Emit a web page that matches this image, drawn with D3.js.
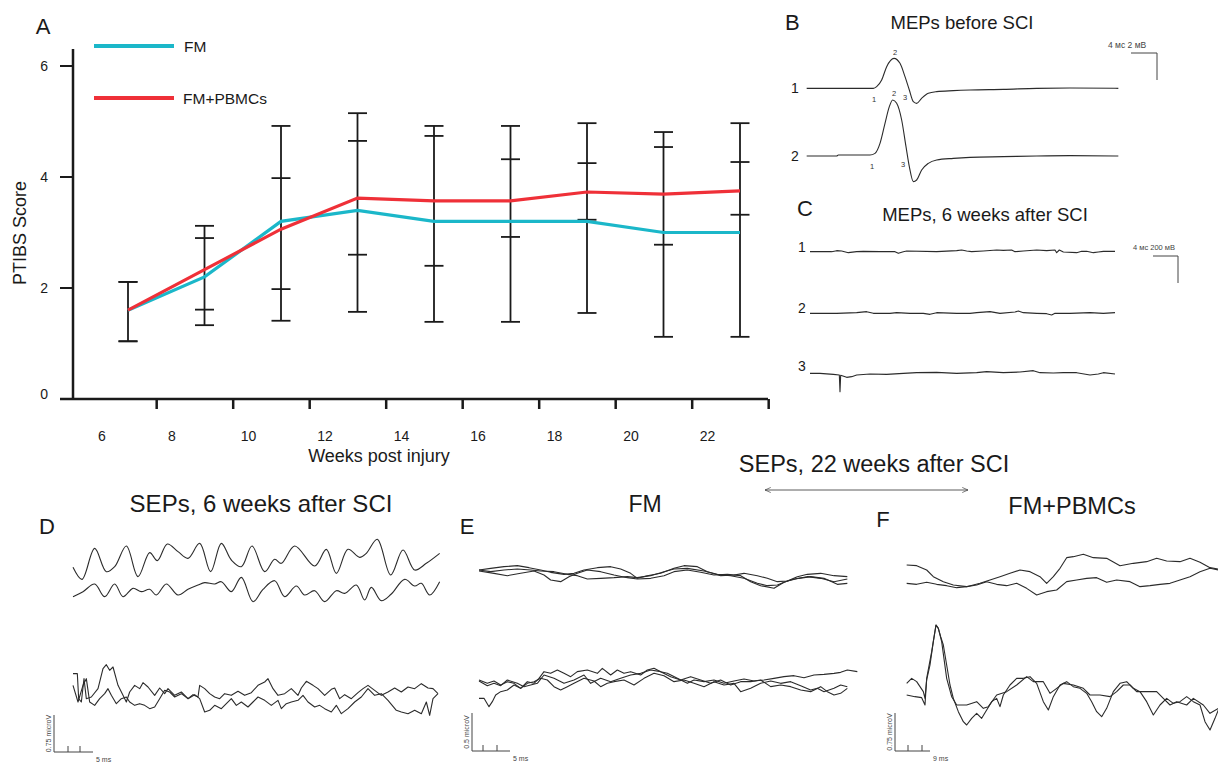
<!DOCTYPE html>
<html>
<head>
<meta charset="utf-8">
<script src="https://cdn.jsdelivr.net/npm/d3@7"></script>
<style>
  body { margin: 0; background: #fff; }
  svg { display: block; font-family: "Liberation Sans", Arial, sans-serif; }
</style>
</head>
<body>
<svg id="fig" width="1218" height="762"></svg>
<script>
// ---- panel A data: PTIBS score by week ----
const weeks = [6, 8, 10, 12, 14, 16, 18, 20, 22];
const fmMean = [1.6, 2.2, 3.2, 3.4, 3.2, 3.2, 3.2, 3.0, 3.0];
const pbmcMean = [1.6, 2.33, 3.06, 3.62, 3.57, 3.57, 3.73, 3.69, 3.75];
const fmHigh = [2.11, 2.90, 4.92, 5.15, 4.92, 4.92, 4.97, 4.81, 4.97];
const fmLow = [1.04, 1.33, 1.41, 1.57, 1.39, 1.39, 1.55, 1.12, 1.12];
const pbmcHigh = [2.11, 3.12, 3.98, 4.65, 4.74, 4.32, 4.25, 4.54, 4.27];
const pbmcLow = [1.04, 1.61, 1.98, 2.60, 2.40, 2.92, 3.23, 2.78, 3.32];
const yTicks = [0, 2, 4, 6];

// ---- recorded traces, [sample, amplitude] (negative-up display) ----
const mepBefore1 = [[110,265],[200,265],[310,265],[320,260],[335,240],[350,200],[372,175],[390,190],[405,230],[418,270],[430,305],[440,310],[455,295],[475,280],[500,275],[550,272],[600,270],[700,268],[800,265],[900,264],[1045,265]];
const mepBefore2 = [[110,468],[200,468],[205,465],[300,465],[315,460],[330,430],[345,370],[358,320],[368,300],[380,310],[395,360],[408,440],[418,500],[430,545],[440,540],[455,510],[475,490],[500,480],[550,475],[600,472],[700,470],[800,468],[900,467],[1045,468]];
const mepAfter1 = [[120,185],[185,185],[200,182],[215,183],[235,188],[260,185],[280,184],[330,185],[375,185],[385,190],[400,185],[410,183],[500,185],[560,182],[575,180],[590,183],[605,185],[640,183],[680,180],[700,181],[725,180],[735,185],[760,183],[800,180],[830,182],[855,180],[860,188],[868,180],[880,186],[920,188],[935,184],[950,184],[970,188],[985,186],[1000,184],[1035,184]];
const mepAfter2 = [[120,370],[200,370],[260,368],[290,365],[310,370],[360,370],[380,368],[420,370],[460,370],[480,373],[500,368],[560,370],[600,370],[620,368],[660,365],[690,370],[735,366],[745,363],[760,368],[800,370],[830,371],[845,375],[855,370],[900,370],[960,368],[1000,370],[1035,368]];
const mepAfter3 = [[120,550],[150,550],[190,553],[208,555],[210,605],[212,556],[230,562],[245,560],[260,555],[300,552],[350,553],[400,550],[440,548],[500,547],[560,550],[620,548],[650,545],[700,548],[750,546],[790,542],[810,548],[850,549],[880,548],[920,548],[960,555],[985,552],[1000,548],[1035,552]];

const sepD1 = [[15,112],[42,148],[80,55],[115,125],[140,110],[175,48],[210,140],[245,68],[268,92],[298,42],[330,65],[360,85],[395,40],[428,125],[460,40],[490,90],[520,110],[552,48],[590,125],[620,88],[640,100],[680,48],[740,108],[775,58],[805,130],[840,58],[875,82],[895,70],[928,28],[968,135],[1005,60],[1040,120],[1075,100],[1115,70]];
const sepD2 = [[15,200],[45,185],[80,162],[110,200],[140,162],[165,200],[195,175],[220,185],[245,178],[265,195],[295,162],[330,195],[360,178],[390,165],[410,158],[440,162],[460,155],[490,185],[520,142],[555,215],[585,178],[620,152],[650,200],[685,168],[710,195],[740,182],[770,215],[805,182],[830,190],[865,165],[890,210],[910,172],[940,212],[970,192],[1010,148],[1040,168],[1060,160],[1085,195],[1115,155]];
const sepD3 = [[15,65],[28,65],[32,140],[40,150],[48,80],[55,140],[70,135],[90,110],[105,50],[115,38],[125,55],[135,45],[150,100],[165,130],[175,150],[185,120],[200,100],[215,110],[225,92],[240,105],[260,130],[275,108],[290,125],[300,110],[320,130],[340,120],[360,140],[375,128],[390,135],[395,100],[410,110],[425,125],[440,135],[455,140],[470,125],[490,130],[510,118],[530,130],[550,122],[570,100],[590,90],[600,80],[615,110],[630,130],[650,125],[670,110],[690,130],[700,108],[715,88],[735,100],[750,110],[770,130],[790,112],[800,108],[815,140],[830,128],[850,140],[870,122],[885,110],[900,100],[920,115],[940,130],[960,120],[980,108],[1000,120],[1020,105],[1040,110],[1060,95],[1080,108],[1095,110],[1110,125]];
const sepD4 = [[15,100],[30,150],[45,100],[55,80],[65,150],[80,160],[95,140],[110,125],[120,110],[130,130],[145,155],[160,140],[175,135],[185,150],[200,160],[215,155],[230,160],[245,170],[260,165],[275,140],[290,115],[305,120],[320,135],[340,125],[360,140],[380,128],[395,140],[410,180],[425,175],[440,160],[460,170],[475,155],[490,140],[505,160],[520,150],[540,165],[555,150],[570,135],[590,145],[610,160],[630,145],[640,170],[655,155],[670,150],[690,145],[705,130],[720,150],[740,165],[755,160],[770,170],[790,180],[805,160],[820,185],[840,170],[860,150],[880,135],[900,110],[920,130],[940,125],[960,145],[985,175],[1000,180],[1020,185],[1040,175],[1060,185],[1075,150],[1085,190],[1095,140],[1110,125]];

const sepE1 = [[15,45],[50,40],[90,35],[130,32],[165,38],[200,45],[230,52],[270,58],[300,55],[330,45],[370,38],[410,35],[440,42],[470,55],[490,70],[520,62],[560,55],[600,40],[630,32],[670,35],[700,50],[740,62],[780,60],[810,55],[850,62],[880,70],[910,80],[940,78],[970,65],[1000,58],[1040,55],[1080,62],[1120,65]];
const sepE2 = [[15,48],[60,55],[100,62],[140,55],[180,48],[210,60],[230,75],[260,80],[285,65],[310,55],[340,45],[380,50],[420,60],[460,68],[490,72],[530,70],[570,62],[600,50],[640,45],[680,52],[720,60],[760,58],[800,62],[830,80],[860,92],[900,100],[930,82],[960,72],[1000,65],[1040,70],[1080,80],[1120,72]];
const sepE3 = [[15,45],[50,50],[90,45],[130,42],[170,45],[200,48],[240,50],[280,58],[310,62],[340,72],[380,70],[420,68],[460,65],[490,68],[530,62],[570,50],[600,42],[640,40],[690,48],[730,58],[770,62],[810,70],[850,85],[880,92],[910,90],[940,78],[975,70],[1010,65],[1050,70],[1090,88],[1120,85]];
const sepE4 = [[15,430],[30,430],[45,455],[55,440],[65,420],[80,410],[100,405],[120,390],[140,400],[160,380],[180,385],[195,370],[210,350],[230,355],[250,345],[270,355],[290,365],[310,350],[340,345],[370,355],[385,340],[410,360],[430,345],[450,355],[470,350],[500,360],[520,345],[540,340],[560,350],[580,355],[610,370],[640,385],[660,375],[690,380],[720,375],[750,385],[780,378],[810,372],[840,378],[870,375],[900,370],[930,365],[960,362],[990,368],[1020,360],[1050,358],[1080,355],[1100,352],[1120,345],[1150,350]];
const sepE5 = [[15,375],[40,385],[60,378],[80,390],[100,380],[120,385],[140,400],[160,385],[180,380],[200,370],[220,375],[240,395],[260,405],[280,395],[300,385],[330,370],[360,378],[380,395],[400,385],[420,380],[450,375],[480,390],[510,370],[540,355],[570,362],[600,380],[630,375],[660,385],[690,395],[720,380],[750,390],[780,385],[800,410],[830,400],[860,385],[890,378],[920,385],[950,380],[980,392],[1010,405],[1030,400],[1050,410],[1080,400],[1100,390],[1120,395]];
const sepE6 = [[15,378],[40,392],[60,385],[80,392],[100,375],[130,385],[150,395],[170,390],[190,385],[210,360],[240,370],[270,385],[300,375],[330,360],[350,385],[380,370],[410,380],[440,370],[470,360],[500,355],[530,345],[560,350],[590,365],[620,375],[650,365],[680,375],[710,385],[740,375],[770,390],[800,380],[830,380],[860,375],[890,395],[920,390],[950,395],[980,405],[1010,410],[1040,395],[1060,410],[1080,420],[1100,415],[1120,400]];

const sepF1 = [[20,60],[50,62],[80,75],[100,95],[130,110],[160,120],[200,125],[240,115],[270,105],[300,95],[330,85],[360,75],[390,80],[420,95],[440,115],[460,95],[480,70],[500,38],[520,35],[550,28],[580,38],[620,40],[660,62],[700,55],[740,50],[770,40],[800,48],[840,50],[870,40],[900,52],[930,68],[955,72]];
const sepF2 = [[20,115],[50,118],[80,112],[110,118],[140,122],[170,128],[200,125],[230,120],[260,110],[290,118],[320,122],[350,115],[380,130],[410,150],[440,140],[470,135],[500,110],[530,105],[560,100],[590,98],[620,112],[650,105],[690,110],[720,125],[750,122],[780,118],[810,115],[840,105],[870,95],[900,80],[930,70],[955,75]];
const sepF3 = [[20,415],[35,400],[50,410],[60,425],[70,440],[75,460],[80,405],[90,360],[100,290],[108,240],[115,250],[122,275],[130,300],[140,360],[150,420],[160,460],[175,500],[190,530],[200,540],[215,520],[230,505],[245,520],[260,495],[275,470],[290,460],[300,485],[310,450],[330,420],[350,400],[370,400],[390,395],[410,415],[430,470],[445,495],[460,455],[480,420],[500,410],[520,425],[540,430],[560,445],[575,470],[590,500],[605,515],[620,490],[640,440],[660,415],[680,410],[700,430],[720,440],[740,470],[760,510],[780,480],[800,460],[820,475],[840,470],[860,455],[880,470],[900,480],[915,530],[930,555],[945,520],[955,495]];
const sepF4 = [[20,450],[45,455],[65,458],[75,480],[80,400],[95,320],[108,240],[115,250],[125,290],[140,400],[155,455],[170,480],[200,480],[230,470],[250,490],[265,485],[290,450],[320,440],[350,420],[380,395],[400,410],[430,410],[450,445],[470,430],[490,415],[520,420],[550,430],[570,450],[600,450],[630,455],[650,440],[670,420],[690,420],[710,440],[740,440],[770,440],[790,460],[810,480],[830,470],[860,480],[880,460],[910,480],[930,505],[955,490]];

const svg = d3.select("#fig");
const ink = "#1a1a1a";
const cyan = "#1bb7c9";
const red = "#ef3038";

function addText(x, y, str, size, opts = {}) {
  const t = svg.append("text")
    .attr("x", x).attr("y", y)
    .attr("font-size", size)
    .attr("fill", opts.fill || ink)
    .attr("text-anchor", opts.anchor || "start")
    .attr("dominant-baseline", "central")
    .text(str);
  if (opts.rotate) t.attr("transform", `rotate(${opts.rotate},${x},${y})`);
  return t;
}

// ================= Panel A =================
const x = d3.scaleLinear().domain([6, 22]).range([128, 740]);
const y = d3.scaleLinear().domain([0, 6]).range([399, 66]);

// axes
svg.append("line").attr("x1", 73).attr("x2", 73).attr("y1", 49).attr("y2", y(0))
  .attr("stroke", ink).attr("stroke-width", 2.5);
svg.append("line").attr("x1", 60).attr("x2", 768).attr("y1", y(0)).attr("y2", y(0))
  .attr("stroke", ink).attr("stroke-width", 2.5);
yTicks.forEach(v => {
  if (v > 0) {
    svg.append("line").attr("x1", 60).attr("x2", 73).attr("y1", y(v)).attr("y2", y(v))
      .attr("stroke", ink).attr("stroke-width", 2);
  }
  addText(48, v === 0 ? y(v) - 5 : y(v), v, 14, { anchor: "end" });
});
weeks.forEach((w, i) => {
  const tx = x(w + 0.75);
  svg.append("line").attr("x1", tx).attr("x2", tx).attr("y1", y(0)).attr("y2", y(0) + 10)
    .attr("stroke", ink).attr("stroke-width", 2.5);
  addText(x(w - (i === 0 ? 0.68 : 0.85)), 436, w, 14, { anchor: "middle" });
});
addText(379, 456, "Weeks post injury", 18, { anchor: "middle" });
addText(20, 233, "PTIBS Score", 18, { anchor: "middle", rotate: -90 });
addText(43, 26, "A", 22, { anchor: "middle" });

// error bars
const capW = 9.5;
weeks.forEach((w, i) => {
  const cx = x(w);
  const top = Math.max(fmHigh[i], pbmcHigh[i]);
  const bot = Math.min(fmLow[i], pbmcLow[i]);
  svg.append("line").attr("x1", cx).attr("x2", cx).attr("y1", y(top)).attr("y2", y(bot))
    .attr("stroke", ink).attr("stroke-width", 1.8);
  [fmHigh[i], fmLow[i], pbmcHigh[i], pbmcLow[i]].forEach(v => {
    svg.append("line").attr("x1", cx - capW).attr("x2", cx + capW).attr("y1", y(v)).attr("y2", y(v))
      .attr("stroke", ink).attr("stroke-width", 1.8);
  });
});

const meanLine = d3.line().x((d, i) => x(weeks[i])).y(d => y(d));
svg.append("path").attr("d", meanLine(fmMean)).attr("fill", "none")
  .attr("stroke", cyan).attr("stroke-width", 3.2);
svg.append("path").attr("d", meanLine(pbmcMean)).attr("fill", "none")
  .attr("stroke", red).attr("stroke-width", 3.2);

// legend
svg.append("line").attr("x1", 94).attr("x2", 174).attr("y1", 46).attr("y2", 46)
  .attr("stroke", cyan).attr("stroke-width", 4);
addText(184, 46, "FM", 15.5);
svg.append("line").attr("x1", 94).attr("x2", 174).attr("y1", 98).attr("y2", 98)
  .attr("stroke", red).attr("stroke-width", 4);
addText(183, 98, "FM+PBMCs", 15.5);

// ================= trace helper =================
function drawTraces(traces, x0, y0, curve) {
  const sx = d3.scaleLinear().domain([0, 1200]).range([x0, x0 + 400]);
  const sy = d3.scaleLinear().domain([0, 600]).range([y0, y0 + 200]);
  const line = d3.line().x(d => sx(d[0])).y(d => sy(d[1])).curve(curve || d3.curveLinear);
  traces.forEach(tr => {
    svg.append("path").attr("d", line(tr)).attr("fill", "none")
      .attr("stroke", "#2b2b2b").attr("stroke-width", 1.1).attr("stroke-linejoin", "round");
  });
}

function scaleBar(x0, yTop, yBot, xRight, tickXs, label, msLabel) {
  svg.append("path")
    .attr("d", `M${x0},${yTop}V${yBot}H${xRight}`)
    .attr("fill", "none").attr("stroke", "#444").attr("stroke-width", 1);
  tickXs.forEach(tx => {
    svg.append("line").attr("x1", tx).attr("x2", tx).attr("y1", yBot).attr("y2", yBot - 6)
      .attr("stroke", "#444").attr("stroke-width", 1);
  });
  addText(x0 - 6, (yTop + yBot) / 2, label, 7, { anchor: "middle", rotate: -90, fill: "#444" });
  addText(xRight + 3, yBot + 7, msLabel, 7, { fill: "#444" });
}

// ================= Panel B =================
addText(785, 22, "B", 22);
addText(962, 22, "MEPs before SCI", 18.5, { anchor: "middle" });
addText(1108, 45, "4 мс 2 мВ", 8.5, { fill: "#444" });
svg.append("path").attr("d", "M1131,53H1157V80").attr("fill", "none").attr("stroke", "#444").attr("stroke-width", 1);
addText(795, 88, "1", 14, { anchor: "middle" });
addText(795, 156, "2", 14, { anchor: "middle" });
drawTraces([mepBefore1, mepBefore2], 770, 0, d3.curveMonotoneX);
[["2", 895, 52], ["1", 874, 99], ["3", 905, 97], ["2", 894, 93], ["1", 872, 166], ["3", 903, 164]]
  .forEach(d => addText(d[1], d[2], d[0], 7.5, { anchor: "middle", fill: "#333" }));

// ================= Panel C =================
addText(797, 208, "C", 22);
addText(985, 214, "MEPs, 6 weeks after SCI", 18.5, { anchor: "middle" });
addText(1133, 247, "4 мс 200 мВ", 7.5, { fill: "#444" });
svg.append("path").attr("d", "M1153,256H1178V283").attr("fill", "none").attr("stroke", "#444").attr("stroke-width", 1);
addText(802, 247, "1", 14, { anchor: "middle" });
addText(802, 308, "2", 14, { anchor: "middle" });
addText(802, 366, "3", 14, { anchor: "middle" });
drawTraces([mepAfter1, mepAfter2, mepAfter3], 770, 190);

// ================= Panels D, E, F =================
addText(874, 464, "SEPs, 22 weeks after SCI", 23.5, { anchor: "middle" });
svg.append("defs").append("marker").attr("id", "ah").attr("viewBox", "0 0 10 10")
  .attr("refX", 9).attr("refY", 5).attr("markerWidth", 8).attr("markerHeight", 8)
  .attr("orient", "auto-start-reverse")
  .append("path").attr("d", "M0,1L9,5L0,9").attr("fill", "none").attr("stroke", "#333").attr("stroke-width", 1);
svg.append("line").attr("x1", 765).attr("x2", 968).attr("y1", 490).attr("y2", 490)
  .attr("stroke", "#333").attr("stroke-width", 0.8)
  .attr("marker-start", "url(#ah)").attr("marker-end", "url(#ah)");

addText(261, 503, "SEPs, 6 weeks after SCI", 24, { anchor: "middle" });
addText(47, 526, "D", 22, { anchor: "middle" });
drawTraces([sepD1, sepD2], 68, 530, d3.curveCatmullRom);
drawTraces([sepD3, sepD4], 68, 652);
scaleBar(54, 715, 752, 93, [68, 80], "0.75 microV", "5 ms");

addText(645, 504, "FM", 23, { anchor: "middle" });
addText(467, 526, "E", 22, { anchor: "middle" });
drawTraces([sepE1, sepE2, sepE3, sepE4, sepE5, sepE6], 474, 555);
scaleBar(472, 713, 751, 510, [483, 497], "0.5 microV", "5 ms");

addText(1072, 506, "FM+PBMCs", 23.5, { anchor: "middle" });
addText(883, 519, "F", 22, { anchor: "middle" });
drawTraces([sepF1, sepF2, sepF3, sepF4], 900, 545);
scaleBar(895, 713, 751, 930, [908, 922], "0.75 microV", "9 ms");
</script>
</body>
</html>
